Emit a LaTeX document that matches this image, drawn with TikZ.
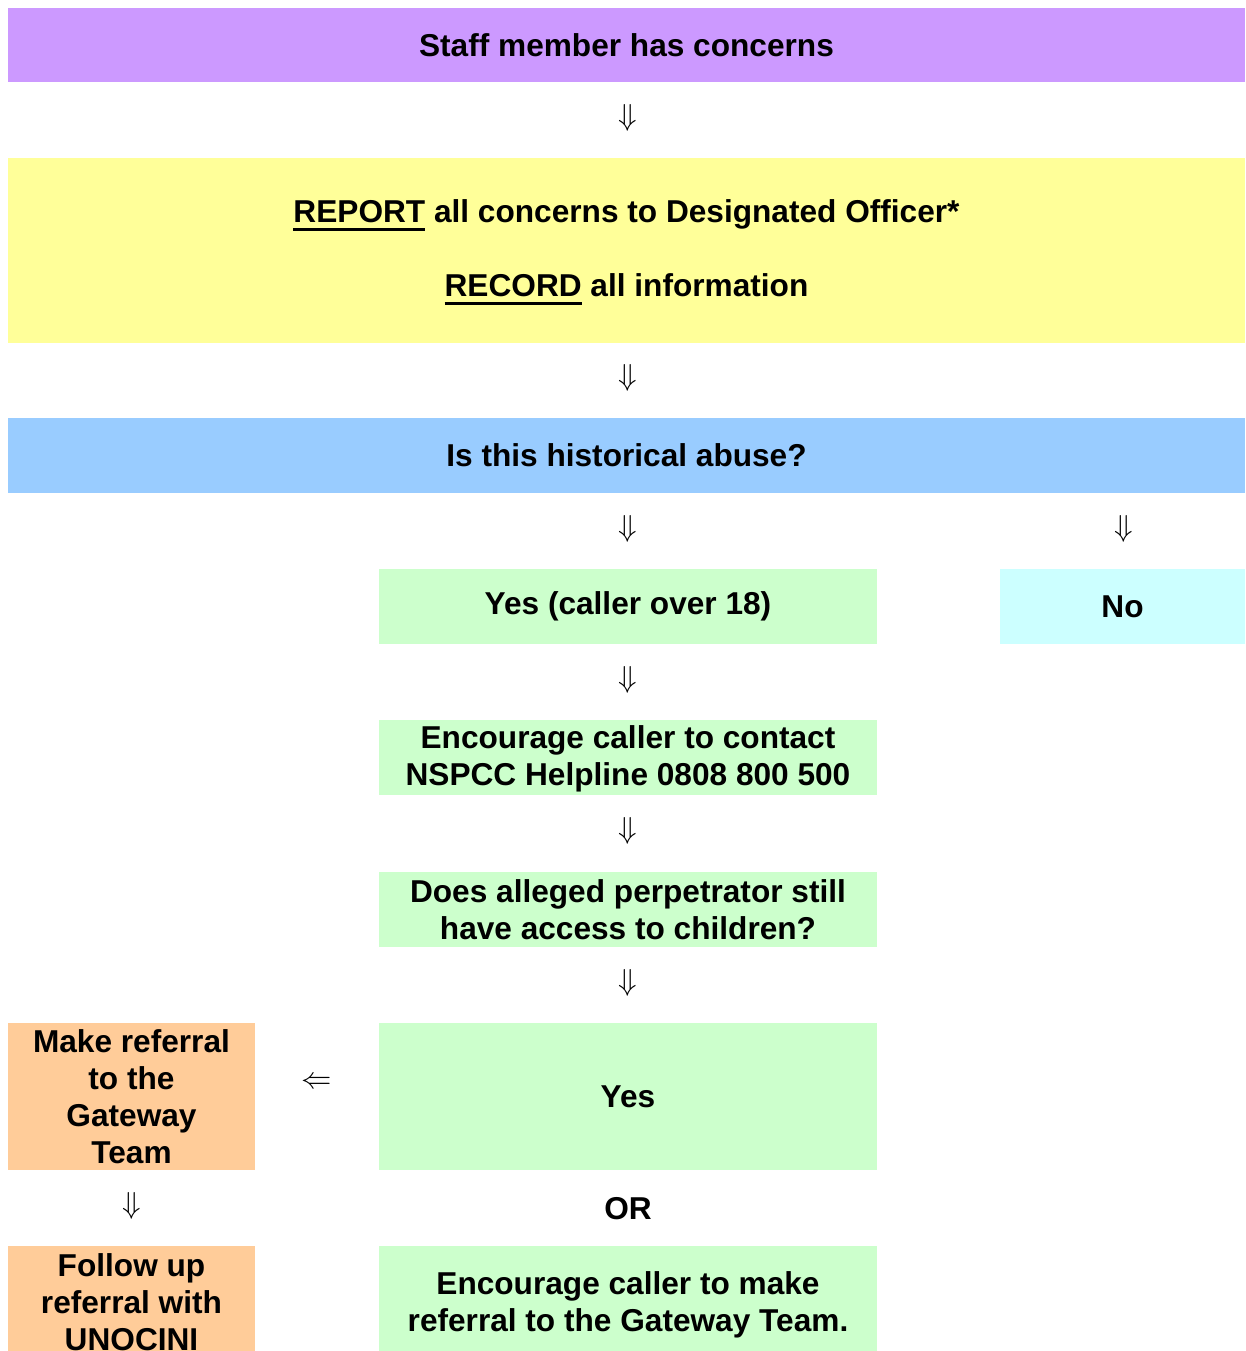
\documentclass[tikz,border=0pt]{standalone}
\usepackage{fontspec}
\setmainfont{Liberation Sans}
\usetikzlibrary{positioning}

\definecolor{lilac}{HTML}{CC99FF}
\definecolor{lemon}{HTML}{FFFF99}
\definecolor{sky}{HTML}{99CCFF}
\definecolor{mint}{HTML}{CCFFCC}
\definecolor{ice}{HTML}{CCFFFF}
\definecolor{peach}{HTML}{FFCC99}

\newcommand{\thickul}[1]{\setbox0=\hbox{#1}\rlap{\rule[-4.5pt]{\wd0}{1.7pt}}\box0\relax}

\begin{document}
\begin{tikzpicture}[x=0.02cm, y=-0.02cm,
  box/.style={inner sep=0pt, align=center, font=\fontsize{18}{21}\selectfont\bfseries},
  arr/.style={inner sep=0pt, font=\fontsize{18.5}{21}\selectfont}]
\def\px{0.02cm}
\def\xm{628}
\def\xl{131.5}
\def\xr{1122.5}

\useasboundingbox (0,0) rectangle (1245,1351);

% full width rows
\node[box, fill=lilac, minimum width={1237*\px}, minimum height={74*\px}] (concern) at (626.5, 45) {Staff member has concerns};
\node[box, fill=lemon, minimum width={1237*\px}, minimum height={185*\px}] (report) at (626.5, 250.5)
  {\\[-6pt]\thickul{REPORT} all concerns to Designated Officer*\\[21pt]\thickul{RECORD} all information};
\node[box, fill=sky, minimum width={1237*\px}, minimum height={75*\px}] (historic) at (626.5, 455.5) {Is this historical abuse?};

% middle column
\node[box, fill=mint, minimum width={498*\px}, minimum height={75*\px}] (yesadult) at (\xm, 606.5) {\raisebox{-3pt}{Yes (caller over 18)}};
\node[box, fill=mint, minimum width={498*\px}, minimum height={75*\px}] (nspcc) at (\xm, 757.5) {\\[-6pt]Encourage caller to contact\\NSPCC Helpline 0808 800 500};
\node[box, fill=mint, minimum width={498*\px}, minimum height={75*\px}] (access) at (\xm, 909.5) {Does alleged perpetrator still\\have access to children?};
\node[box, fill=mint, minimum width={498*\px}, minimum height={147*\px}] (yesaccess) at (\xm, 1096.5) {Yes};
\node[box] (or) at (\xm, 1209) {OR};
\node[box, fill=mint, minimum width={498*\px}, minimum height={112*\px}] (callref) at (\xm, 1302) {\\[-5pt]Encourage caller to make\\referral to the Gateway Team.};

% right column
\node[box, fill=ice, minimum width={245*\px}, minimum height={75*\px}] (no) at (\xr, 606.5) {No};

% left column
\node[box, fill=peach, minimum width={247*\px}, minimum height={147*\px}] (gateway) at (\xl, 1096.5) {Make referral\\to the\\Gateway\\Team};
\node[box, fill=peach, minimum width={247*\px}, minimum height={112*\px}] (unocini) at (\xl, 1302) {Follow up\\referral with\\UNOCINI};

% arrows
\node[arr] (a1) at (\xm, 118) {$\Downarrow$};
\node[arr] (a2) at (\xm, 378) {$\Downarrow$};
\node[arr] (a3) at (\xm, 529) {$\Downarrow$};
\node[arr] (a4) at (\xr+1, 529) {$\Downarrow$};
\node[arr] (a5) at (\xm, 680) {$\Downarrow$};
\node[arr] (a6) at (\xm, 831) {$\Downarrow$};
\node[arr] (a7) at (\xm, 983) {$\Downarrow$};
\node[arr] (a8) at (317, 1083) {$\Leftarrow$};
\node[arr] (a9) at (\xl+0.5, 1206) {$\Downarrow$};

\end{tikzpicture}
\end{document}
